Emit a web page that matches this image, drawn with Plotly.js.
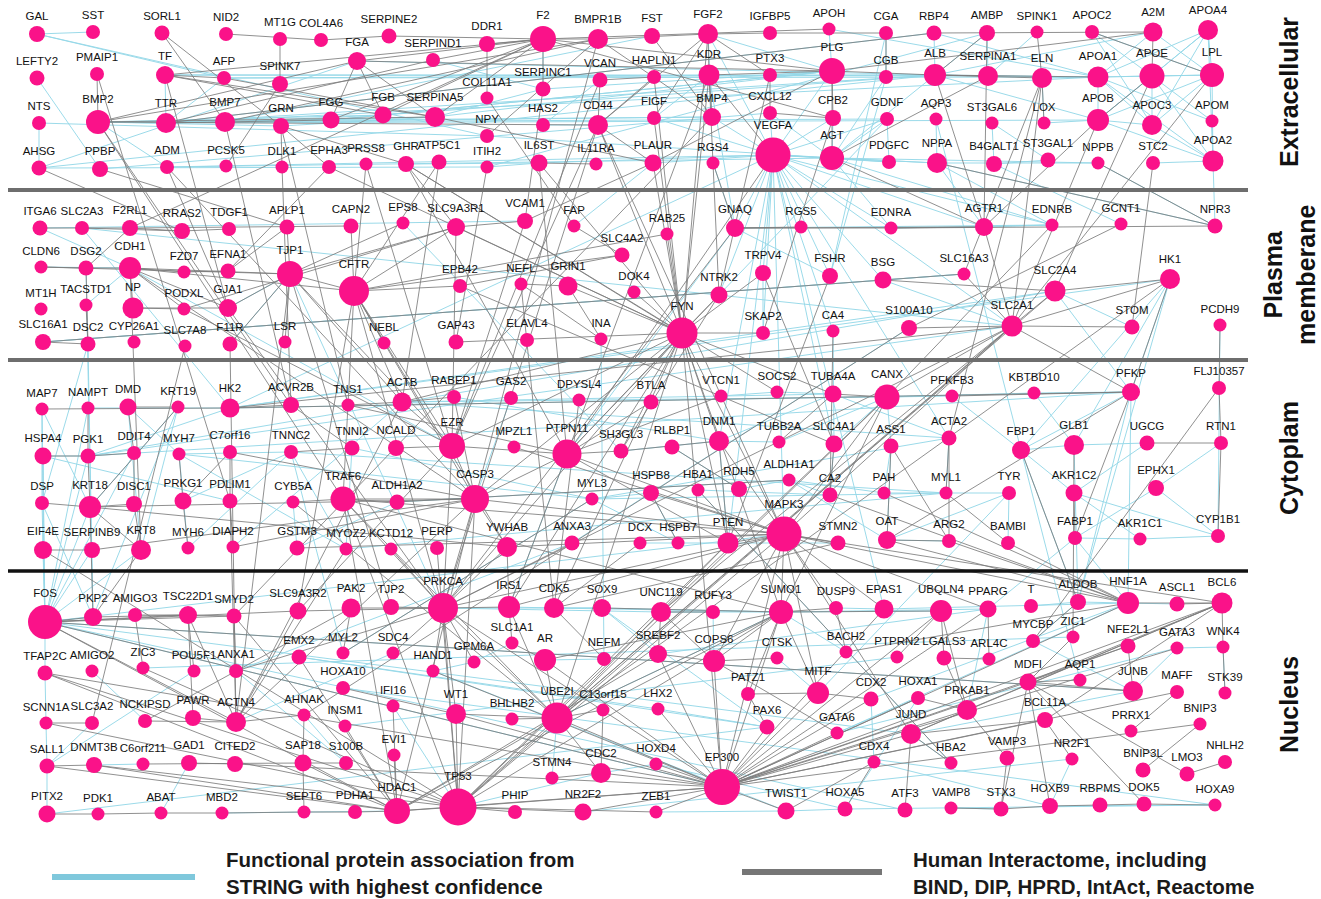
<!DOCTYPE html>
<html>
<head>
<meta charset="utf-8">
<script src="https://cdn.plot.ly/plotly-3.0.1.min.js"></script>
<style>
  html, body { margin: 0; padding: 0; background: #ffffff; }
  #chart { width: 1321px; height: 899px; }
</style>
</head>
<body>
<div id="chart"></div>
<script>
// Network layout: [gene, layout x, layout y, node weight]
const extracellular = [
  ["GAL",37,34,16],["SST",93,32,14],["SORL1",162,33,15],["NID2",226,34,14],["MT1G",280,39,14],["COL4A6",321,40,14],
  ["SERPINE2",389,36,15],["DDR1",487,44,16],["F2",543,39,26],["BMPR1B",598,39,20],["FST",652,36,16],["FGF2",708,34,20],
  ["IGFBP5",770,33,14],["APOH",829,29,13],["CGA",886,33,14],["RBP4",934,33,15],["AMBP",987,33,16],["SPINK1",1037,32,13],
  ["APOC2",1092,32,14],["A2M",1153,32,19],["APOA4",1208,30,20],
  ["LEFTY2",37,78,15],["PMAIP1",97,74,14],["TF",165,75,18],["AFP",224,78,14],["SPINK7",280,84,16],["FGA",357,61,18],
  ["SERPIND1",433,60,14],["COL11A1",487,98,13],["SERPINC1",543,89,15],["VCAN",600,80,15],["HAPLN1",654,77,14],
  ["KDR",709,75,21],["PTX3",770,75,14],["PLG",832,71,26],["CGB",886,77,14],["ALB",935,75,22],["SERPINA1",988,76,20],
  ["ELN",1042,78,20],["APOA1",1098,77,21],["APOE",1152,76,25],["LPL",1212,75,24],
  ["NTS",39,123,14],["BMP2",98,122,24],["TTR",166,123,20],["BMP7",225,122,20],["GRN",281,126,16],["FGG",331,120,17],
  ["FGB",383,115,17],["SERPINA5",435,117,20],["NPY",487,136,14],["HAS2",543,125,14],["CD44",598,125,20],["FIGF",654,118,14],
  ["BMP4",712,117,18],["CXCL12",770,113,14],["CPB2",833,118,16],["GDNF",887,119,14],["AQP3",936,119,13],["ST3GAL6",992,123,13],
  ["LOX",1044,123,13],["APOB",1098,120,22],["APOC3",1152,125,20],["APOM",1212,121,13],
  ["AHSG",39,168,15],["PPBP",100,169,16],["ADM",167,167,14],["PCSK5",226,166,13],["DLK1",282,167,13],["EPHA3",329,167,14],
  ["PRSS8",366,164,13],["GHR",406,164,16],["ATP5C1",439,162,15],["ITIH2",487,167,13],["IL6ST",539,163,17],["IL11RA",596,164,13],
  ["PLAUR",653,163,17],["RGS4",713,163,13],["VEGFA",773,155,35],["AGT",832,158,24],["PDGFC",889,162,14],["NPPA",937,163,20],
  ["B4GALT1",994,164,16],["ST3GAL1",1048,160,15],["NPPB",1098,163,13],["STC2",1153,163,14],["APOA2",1213,161,21]
];

const plasmaMembrane = [
  ["ITGA6",40,228,15],["SLC2A3",82,228,14],["F2RL1",130,228,16],["RRAS2",182,231,16],["TDGF1",229,229,14],["APLP1",287,227,15],
  ["CAPN2",351,226,15],["EPS8",403,223,13],["SLC9A3R1",456,227,18],["VCAM1",525,221,16],["FAP",574,226,13],["RAB25",667,234,13],
  ["GNAQ",735,228,18],["RGS5",801,227,13],["EDNRA",891,228,13],["AGTR1",984,227,18],["EDNRB",1052,225,13],["GCNT1",1121,224,13],
  ["NPR3",1215,226,15],
  ["CLDN6",41,267,13],["DSG2",86,268,15],["CDH1",130,268,22],["FZD7",184,272,13],["EFNA1",228,271,15],["TJP1",290,274,26],
  ["CFTR",354,291,30],["EPB42",460,286,14],["NEFL",521,284,13],["GRIN1",568,286,19],["SLC4A2",622,255,15],["DOK4",634,292,13],
  ["NTRK2",719,295,17],["TRPV4",763,273,16],["FSHR",830,276,16],["BSG",883,280,17],["SLC16A3",964,274,13],["SLC2A4",1055,291,21],
  ["HK1",1170,279,20],
  ["MT1H",41,309,13],["TACSTD1",86,305,13],["NP",133,308,21],["PODXL",184,309,13],["GJA1",228,308,18],
  ["SLC16A1",43,342,16],["DSC2",88,344,15],["CYP26A1",134,342,13],["SLC7A8",185,346,13],["F11R",230,344,15],["LSR",285,342,13],
  ["NEBL",384,343,13],["GAP43",456,342,15],["ELAVL4",527,340,14],["INA",601,339,13],["FYN",682,333,31],["SKAP2",763,333,14],
  ["CA4",833,331,13],["S100A10",909,328,16],["SLC2A1",1012,326,21],["STOM",1132,327,15],["PCDH9",1220,325,13]
];

const cytoplasm = [
  ["MAP7",42,409,13],["NAMPT",88,408,13],["DMD",128,407,17],["KRT19",178,407,13],["HK2",230,408,19],["ACVR2B",291,405,16],
  ["TNS1",348,405,13],["ACTB",402,402,19],["RABEP1",454,397,14],["GAS2",511,398,14],["DPYSL4",579,400,13],["BTLA",651,402,15],
  ["VTCN1",721,396,13],["SOCS2",777,392,13],["TUBA4A",833,394,17],["CANX",887,397,25],["PFKFB3",952,396,13],["KBTBD10",1034,393,13],
  ["PFKP",1131,392,18],["FLJ10357",1219,388,14],
  ["HSPA4",43,456,17],["PGK1",88,456,15],["DDIT4",134,453,14],["MYH7",179,454,13],["C7orf16",230,452,14],["TNNC2",291,452,14],
  ["TNNI2",352,448,15],["NCALD",396,448,16],["EZR",452,446,26],["MPZL1",514,447,13],["PTPN11",567,454,29],["SH3GL3",621,451,15],
  ["RLBP1",672,447,15],["DNM1",719,441,20],["TUBB2A",779,442,13],["SLC4A1",834,444,17],["ASS1",891,446,15],["ACTA2",949,438,15],
  ["FBP1",1021,450,18],["GLB1",1074,445,20],["UGCG",1147,443,15],["RTN1",1221,443,14],
  ["DSP",42,503,14],["KRT18",90,507,22],["DISC1",134,504,16],["PRKG1",183,501,17],["PDLIM1",230,501,15],["CYB5A",293,502,13],
  ["TRAF6",343,499,25],["ALDH1A2",397,502,15],["CASP3",475,499,28],["MYL3",592,499,13],["HSPB8",651,493,16],["HBA1",698,490,13],
  ["RDH5",739,489,16],["ALDH1A1",789,480,13],["CA2",830,495,15],["PAH",884,493,13],["MYL1",946,493,13],["TYR",1009,493,14],
  ["AKR1C2",1074,493,17],["EPHX1",1156,488,16],
  ["EIF4E",43,550,18],["SERPINB9",92,550,16],["KRT8",141,550,20],["MYH6",188,548,13],["DIAPH2",233,547,13],["GSTM3",297,548,15],
  ["MYOZ2",346,549,13],["KCTD12",391,549,13],["PERP",437,548,14],["YWHAB",507,547,20],["ANXA3",572,543,15],["DCX",640,543,13],
  ["HSPB7",678,543,13],["PTEN",728,543,21],["MAPK3",784,534,35],["STMN2",838,543,15],["OAT",887,540,18],["ARG2",949,541,14],
  ["BAMBI",1008,543,14],["FABP1",1075,538,14],["AKR1C1",1140,539,13],["CYP1B1",1218,536,14]
];

const nucleus = [
  ["FOS",45,622,34],["PKP2",93,617,18],["AMIGO3",135,615,14],["TSC22D1",188,615,18],["SMYD2",234,616,15],["SLC9A3R2",298,611,17],
  ["PAK2",351,608,19],["TJP2",391,607,16],["PRKCA",443,608,30],["IRS1",509,607,22],["CDK5",554,608,20],["SOX9",602,608,18],
  ["UNC119",661,612,20],["RUFY3",713,612,14],["SUMO1",781,612,24],["DUSP9",836,608,14],["EPAS1",884,609,19],["UBQLN4",941,611,22],
  ["PPARG",988,609,17],["T",1031,606,14],["ALDOB",1078,602,16],["HNF1A",1128,603,22],["ASCL1",1177,604,15],["BCL6",1222,603,21],
  ["TFAP2C",45,673,15],["AMIGO2",92,671,13],["ZIC3",143,668,13],["POU5F1",194,671,13],["ANXA1",236,671,14],["EMX2",299,657,15],
  ["MYL2",343,653,13],["SDC4",393,653,13],["HAND1",433,671,13],["GPM6A",474,662,13],["SLC1A1",512,643,13],["AR",545,660,22],
  ["NEFM",604,659,14],["SREBF2",658,654,18],["COPS6",714,661,22],["CTSK",777,658,13],["BACH2",846,652,13],["PTPRN2",897,657,13],
  ["LGALS3",944,658,15],["ARL4C",989,659,13],["MYCBP",1033,641,14],["ZIC1",1073,637,13],["NFE2L1",1128,646,15],["GATA3",1177,648,13],
  ["WNK4",1223,647,13],
  ["HOXA10",343,688,14],["SCNN1A",46,723,13],["SLC3A2",92,723,14],["NCKIPSD",145,721,14],["PAWR",193,718,16],["ACTN4",236,722,20],
  ["AHNAK",304,715,13],["INSM1",345,726,13],["IFI16",393,706,13],["WT1",456,714,20],["BHLHB2",512,719,13],["UBE2I",557,718,31],
  ["C13orf15",603,710,13],["LHX2",658,709,13],["PATZ1",748,694,14],["MITF",818,693,22],["PAX6",767,727,15],["GATA6",837,733,13],
  ["CDX2",871,699,15],["HOXA1",918,698,14],["PRKAB1",967,710,20],["MDFI",1028,682,17],["AQP1",1080,680,13],["JUNB",1133,691,20],
  ["MAFF",1177,692,14],["STK39",1225,693,13],["BCL11A",1045,720,16],["PRRX1",1131,731,13],["BNIP3",1200,724,13],["JUND",911,734,20],
  ["SALL1",47,766,15],["DNMT3B",94,765,16],["C6orf211",143,764,13],["GAD1",189,763,16],["CITED2",235,764,16],["SAP18",303,763,17],
  ["S100B",346,763,14],["EVI1",394,755,13],["STMN4",552,778,13],["CDC2",601,773,20],["HOXD4",656,764,13],["EP300",722,787,36],
  ["CDX4",874,762,13],["HBA2",951,763,13],["VAMP3",1007,758,15],["NR2F1",1072,759,13],["BNIP3L",1143,770,15],["LMO3",1187,774,15],
  ["NHLH2",1225,762,14],
  ["PITX2",47,814,17],["PDK1",98,814,13],["ABAT",161,813,13],["MBD2",222,813,13],["SEPT6",304,812,13],["PDHA1",355,812,14],
  ["HDAC1",397,811,26],["TP53",458,807,37],["PHIP",515,812,14],["NR2F2",583,812,17],["ZEB1",656,812,13],["TWIST1",786,811,17],
  ["HOXA5",845,809,15],["ATF3",905,810,15],["VAMP8",951,808,13],["STX3",1001,809,15],["HOXB9",1050,806,16],["RBPMS",1100,805,15],
  ["DOK5",1144,804,15],["HOXA9",1215,805,13]
];

// Functional associations from STRING (highest confidence)
const stringEdges = [
  "GAL-SST","GAL-AFP","GAL-NPY","LEFTY2-PPBP","NTS-AHSG","NTS-NPY","TF-TTR","TTR-BMP2","BMP2-BMP7","BMP2-GRN","BMP7-BMP4",
  "BMP2-BMP4","BMP2-ADM","TTR-ALB","TTR-APOA1","AFP-ALB","AFP-TTR","FGG-PLG","FGB-PLG","SERPINA5-SERPINC1","SERPINA5-PLG",
  "SERPINC1-PLG","SERPIND1-SERPINC1","AHSG-FGA","ITIH2-AMBP","ITIH2-AHSG","HAS2-CD44","FIGF-KDR","FIGF-VEGFA","VEGFA-FGF2",
  "VEGFA-CXCL12","VEGFA-PDGFC","VEGFA-AGT","VEGFA-GDNF","VEGFA-NPPA","VEGFA-EDNRA","VEGFA-GNAQ","VEGFA-NTRK2","VEGFA-TRPV4",
  "VEGFA-FSHR","VEGFA-SLC2A1","VEGFA-MAPK3","VEGFA-PTEN","VEGFA-EPAS1","VEGFA-AGTR1","VEGFA-BSG","VEGFA-ACTA2","VEGFA-EDNRB",
  "VEGFA-HK2","VEGFA-PLG","VEGFA-CPB2","VEGFA-SKAP2","VEGFA-CA4","VEGFA-DNM1","VEGFA-SLC4A1","AGT-NPPA","AGT-NPPB","AGT-EDNRA",
  "AGT-EDNRB","NPPA-NPPB","NPPA-NPR3","NPPA-AGTR1","NPPA-EDNRB","CGA-CGB","CGA-FSHR","CGB-FSHR","RBP4-TTR","RBP4-ALB","ALB-APOA1",
  "ALB-APOB","SERPINA1-APOA1","SERPINA1-ALB","APOA4-APOA1","APOA4-APOE","APOA4-LPL","APOA4-APOC3","APOA4-APOB","APOA4-APOA2",
  "APOA1-APOE","APOA1-LPL","APOA1-APOC3","APOA1-APOA2","APOA1-APOB","APOA1-APOM","APOE-APOC3","APOE-APOA2","APOE-LPL","APOB-APOC3",
  "APOB-LPL","APOB-APOA2","APOC3-LPL","APOC3-APOA2","APOC2-APOC3","APOM-APOA2","LPL-APOA2","APOH-APOA1","ST3GAL6-ST3GAL1",
  "B4GALT1-ST3GAL6","B4GALT1-ST3GAL1","AQP3-AQP1","LOX-ELN","GDNF-PDGFC","APOA2-NPR3","APOE-APOB","CGB-AGT",
  "TF-ALB","TTR-SERPINA5","BMP7-FGB","TF-SERPINA1","AFP-APOA1","FGG-FGB","FGA-ALB","FGB-ALB","BMP4-FGF2","BMP4-VEGFA",
  "IL6ST-VEGFA","PLAUR-VEGFA","AGT-ALB","CPB2-AGT","AMBP-ALB","RBP4-APOA1","PTX3-PLG","FGF2-PLG","A2M-ALB","A2M-APOA1",
  "A2M-LPL","ELN-APOA1","LOX-APOB","GDNF-AGT","PDGFC-AGT","ADM-AGT","BMP2-FGB","TTR-APOB","BMP7-SERPINA5","GRN-SERPINA5",
  "AHSG-ALB","PPBP-CXCL12","GHR-IL6ST","ITIH2-IL6ST","NPY-AGT","ADM-VEGFA","HAS2-VCAN","FST-BMP7","BMP7-GDNF","SERPINC1-F2",
  "APOH-PLG","AMBP-SERPINA1","APOC2-APOE","APOC2-LPL","SPINK1-SERPINA1","CXCL12-AGT","PDGFC-VEGFA","GDNF-NTRK2","STC2-APOA2",
  "NPPB-NPPA","APOM-APOE","ST3GAL1-B4GALT1","AQP3-NPPA",
  "CDH1-TACSTD1","DSC2-DSP","DSG2-PKP2","DSC2-PKP2","SLC2A3-SLC2A1","SLC2A3-HK2","SLC16A1-SLC16A3","GJA1-TJP1","F11R-TJP1",
  "GNAQ-RGS4","GNAQ-EDNRB","EDNRA-EDNRB","FSHR-CGB","HK1-HK2","HK1-PFKP","HK1-FBP1","HK1-ALDOB","HK1-GLB1","ITGA6-CDH1",
  "CLDN6-CDH1","SLC16A1-BSG","SLC2A4-HK2","STOM-SLC2A4","NPR3-NPPB","PCDH9-CYP1B1","SLC2A4-PFKP","AGTR1-EDNRB",
  "FAP-PLAUR","VCAM1-ITGA6","EPS8-SH3GL3","BSG-SLC2A1","SKAP2-TRPV4","CA4-SLC4A1","FSHR-GNAQ","KDR-GNAQ","S100A10-ANXA3",
  "TJP1-PRKCA","CDH1-EZR","GNAQ-PTPN11","SLC2A4-PGK1","SLC2A1-PGK1","HK1-HK2","SLC16A3-BSG","GCNT1-B4GALT1","EDNRB-EDNRA",
  "KRT19-KRT18","KRT19-KRT8","DSP-PKP2","MYH7-MYH6","MYH7-TNNC2","MYH6-TNNC2","TNNI2-MYL3","MYL3-MYH7","MYL3-MYL2","MYL1-ACTA2",
  "MYL1-MYL3","MYOZ2-TNNC2","MYOZ2-TNNI2","ACTB-ACTA2","ACTB-TUBA4A","DNM1-SH3GL3","HSPB8-HSPB7","ALDH1A1-ALDH1A2","RLBP1-RDH5",
  "CA2-SLC4A1","PGK1-HK2","HK2-PFKP","PFKP-FBP1","FBP1-ALDOB","ALDOB-PFKP","OAT-ASS1","OAT-ARG2","PAH-TYR","TYR-MITF",
  "AKR1C2-AKR1C1","EPHX1-CYP1B1","CYP1B1-AKR1C1","FABP1-PPARG","FABP1-HNF1A","HSPA4-PGK1","MAP7-DSP","DMD-MYH7","GSTM3-ALDH1A2",
  "CANX-ASS1","CANX-PFKFB3","CANX-KBTBD10","GLB1-UGCG","GLB1-FBP1","PFKFB3-FBP1","ACTA2-MYL3","TYR-BAMBI","ALDH1A1-RDH5",
  "TUBB2A-DNM1","HBA1-CA2","PGK1-PFKP","MYL1-MYOZ2","ASS1-PAH","KBTBD10-GLB1","HSPA4-PDLIM1",
  "HSPB7-MYL3","HSPB8-MYL3","MYOZ2-MYH7","MYL1-TNNC2","CANX-SLC4A1","CANX-TUBB2A","ALDH1A1-PAH","ALDH1A1-OAT","AKR1C2-FBP1",
  "AKR1C1-FABP1","CYP1B1-AKR1C2","EPHX1-FABP1","ACTA2-TUBA4A","SOCS2-VTCN1","HSPA4-EIF4E","DMD-KRT8","NAMPT-HK2","MAP7-KRT18",
  "PRKG1-TNNC2","DIAPH2-ACTB","CYB5A-GSTM3","RABEP1-DNM1","GAS2-CASP3","ANXA3-ANXA1","DCX-STMN2","PTEN-DNM1","CA2-ALDH1A1",
  "PFKP-HNF1A","GLB1-ALDOB","UGCG-AKR1C2","TYR-OAT","RTN1-EPHX1","KBTBD10-PFKP","SOCS2-TUBA4A","TUBA4A-DNM1","ACTB-CANX",
  "FOS-JUNB","FOS-JUND","FOS-ATF3","FOS-EIF4E","FOS-HSPA4","FOS-SERPINB9","FOS-KRT8","FOS-DSP","FOS-MAP7","FOS-PKP2","FOS-KRT18",
  "TFAP2C-SCNN1A","SALL1-PITX2","ABAT-GAD1","HOXA1-HOXA5","HOXA5-HOXA9","HOXA9-HOXB9","HOXD4-HOXA5","CDX2-CDX4","CDX2-HNF1A",
  "GATA6-GATA3","JUNB-JUND","JUNB-GATA3","JUND-HBA2","MYCBP-JUNB","NR2F2-NR2F1","ZEB1-TWIST1","TWIST1-HOXA5","HAND1-TWIST1",
  "PAX6-SOX9","PITX2-PAX6","SOX9-SREBF2","UNC119-SUMO1","UNC119-RUFY3","DUSP9-EPAS1","T-ALDOB","ALDOB-HNF1A","ASCL1-HNF1A",
  "SCNN1A-SALL1","FOS-TFAP2C","FOS-MAPK3","FOS-EP300","PRKCA-SOX9","SUMO1-PPARG","PTPRN2-INSM1","HOXA10-HOXA9","EMX2-LHX2",
  "GATA6-HNF1A","NR2F1-HOXB9","VAMP8-STX3","HBA2-HBA1","CDX4-HOXB9","AHNAK-S100B","MYL2-TNNC2","SDC4-ACTN4","ANXA1-S100B",
  "POU5F1-SALL1","ZIC3-ZIC1","IFI16-TP53","UBE2I-SUMO1","SLC1A1-GPM6A","C6orf211-DNMT3B","NEFM-INA","LHX2-PAX6","SOX9-SUMO1",
  "GATA3-WNK4","STK39-WNK4","ALDOB-MYCBP",
  "FOS-NAMPT","FOS-PGK1","FOS-DDIT4","PKP2-KRT19","SUMO1-CDK5","IRS1-PTPN11","UNC119-PRKCA","SOX9-CDK5","CDK5-IRS1",
  "SREBF2-PPARG","EPAS1-HNF1A","UBQLN4-SUMO1","RUFY3-COPS6","SUMO1-BACH2","MITF-TYR","CTSK-MITF","GATA6-HOXA1","PRKAB1-PPARG",
  "HDAC1-MBD2","TP53-CDC2","UBE2I-STMN4","CDC2-HOXD4","GPM6A-HAND1","AR-NEFM","EMX2-PAX6","NCKIPSD-AMIGO2","SLC3A2-SALL1"
];

// Human interactome (BIND, DIP, HPRD, IntAct, Reactome)
const interactomeEdges = [
  "NID2-COL4A6","COL4A6-SERPINE2","SERPINE2-F2","MT1G-SPINK7","SORL1-GRN","TF-AFP","TF-F2","TF-FGB","TF-SERPINA5","PMAIP1-BMP2",
  "PMAIP1-PDLIM1","BMP2-FGA","BMP2-SERPINA5","BMP2-BMPR1B","BMP2-ACVR2B","BMP2-TRAF6","BMP2-CD44","TTR-FGG","TTR-SERPIND1",
  "TTR-RBP4","BMP7-ACVR2B","BMP7-BMPR1B","SPINK7-PCSK5","GRN-DLK1","GRN-EPHA3","GRN-TNS1","GRN-GHR","FGA-FGG","FGA-FGB","FGA-F2",
  "FGA-SERPINA5","FGA-PLG","FGB-F2","FGG-F2","SERPIND1-F2","SERPINA5-F2","SERPINA5-PLAUR","DDR1-F2","DDR1-COL11A1","F2-BMPR1B",
  "F2-SERPINC1","F2-PLG","F2-CPB2","F2-F2RL1","F2-APOH","BMPR1B-FGF2","BMPR1B-BMP4","BMPR1B-NPY","FST-BMP4","FGF2-KDR","FGF2-PTX3",
  "FGF2-CD44","FGF2-FIGF","FGF2-IGFBP5","IGFBP5-CGA","KDR-VEGFA","KDR-BMP4","KDR-PLG","KDR-FYN","KDR-PTPN11","KDR-NTRK2",
  "HAPLN1-CD44","HAPLN1-VCAN","VCAN-CD44","CD44-EZR","CD44-PLAUR","CD44-PRKCA","PLAUR-PLG","PLAUR-VCAM1","PLG-CPB2","PLG-AGT",
  "PLG-ALB","PLG-A2M","CXCL12-PTX3","CXCL12-CPB2","IL6ST-IL11RA","IL6ST-PTPN11","IL6ST-FYN","ALB-AMBP","ALB-SERPINA1","ALB-ELN",
  "ALB-APOA1","ALB-AGTR1","CGA-CGB","RBP4-A2M","SPINK1-ELN","ELN-LOX","ELN-SLC2A1","ELN-ACTA2","ELN-SLC16A3","APOC2-LPL",
  "A2M-APOE","APOE-APOB","LPL-SLC2A1","APOB-SLC2A1","NPPB-NPR3","NPPA-NPR3","AGT-AGTR1","AGT-SERPINA1","STC2-STOM",
  "AHSG-RRAS2","PPBP-APLP1","ADM-GJA1","EPHA3-EFNA1","EPHA3-FYN","GHR-PTPN11","GHR-SOCS2","GHR-SLC9A3R1","RGS4-GNAQ",
  "VEGFA-PTPN11","ATP5C1-CFTR","ITIH2-GAP43","DLK1-ACVR2B","PRSS8-CFTR","SORL1-BMP7","TF-GJA1","AFP-SERPINA5",
  "ATP5C1-ACTB","PRSS8-EZR","GHR-FYN","PLAUR-FYN","FGF2-FYN","BMPR1B-CASP3","CD44-MAPK3","ADM-CASP3","VCAN-EZR","HAPLN1-FYN",
  "BMP4-SMYD2","COL11A1-FAP","SERPINC1-VCAM1","FIGF-FYN","PTX3-NTRK2","CPB2-SKAP2","AMBP-AGTR1","APOE-SLC2A4","APOB-AGTR1",
  "ITGA6-F2RL1","SLC2A3-RRAS2","F2RL1-RRAS2","F2RL1-DSG2","F2RL1-CAPN2","RRAS2-TDGF1","APLP1-TJP1","APLP1-EFNA1","CAPN2-CFTR",
  "EPS8-TJP1","CLDN6-DSG2","DSG2-CDH1","DSG2-DSC2","CDH1-FZD7","CDH1-TJP1","CDH1-NP","CDH1-GJA1","CDH1-CFTR","CDH1-KRT8",
  "CDH1-PODXL","CDH1-CASP3","FZD7-EFNA1","TJP1-CFTR","TJP1-GJA1","TJP1-F11R","TJP1-LSR","TJP1-CLDN6","TJP1-ACTN4","TJP1-TJP2",
  "TJP1-EZR","TJP1-SLC9A3R1","TJP1-ACTB","CFTR-SLC9A3R1","CFTR-NEBL","CFTR-SLC4A2","CFTR-EZR","CFTR-SLC9A3R2","CFTR-PRKCA",
  "CFTR-EPB42","CFTR-ACTB","CFTR-TRAF6","CFTR-YWHAB","CFTR-CASP3","CFTR-RAB25","TACSTD1-DSC2","NP-PODXL","NP-GJA1","SLC16A1-DSC2",
  "SLC16A1-BSG","GJA1-PRKCA","PODXL-EZR","SLC7A8-SLC3A2","F11R-ACTN4","SLC9A3R1-EZR","SLC9A3R1-VCAM1","SLC9A3R1-PODXL",
  "VCAM1-EZR","FAP-SLC4A2","SLC4A2-EPB42","EPB42-SLC4A1","NEFL-INA","NEFL-GRIN1","NEFL-CDK5","GRIN1-FYN","GRIN1-INA","DOK4-FYN",
  "RAB25-FYN","GNAQ-RGS5","GNAQ-AGTR1","GNAQ-EDNRA","GNAQ-PRKCA","TRPV4-FYN","TRPV4-SLC4A1","NTRK2-FYN","NTRK2-PTPN11",
  "NTRK2-SH3GL3","FSHR-PTEN","BSG-SLC16A3","BSG-SLC2A4","SKAP2-FYN","CA4-CA2","S100A10-AHNAK","SLC2A4-HK1","SLC2A4-SLC2A1",
  "SLC2A1-HK1","SLC2A1-STOM","SLC2A1-HK2","SLC2A1-PFKP","SLC2A1-MAPK3","SLC2A1-TP53","SLC2A1-PRKCA","SLC2A1-UBE2I",
  "SLC2A1-UNC119","SLC2A4-UBE2I","HK1-UBE2I","AGTR1-EDNRA","NPR3-EDNRA","HK1-PFKP","PCDH9-FLJ10357","FYN-PTPN11","FYN-PRKCA",
  "FYN-MAPK3","FYN-SH3GL3","FYN-DNM1","FYN-PTEN","FYN-SUMO1","FYN-UBE2I","FYN-IRS1","FYN-CDK5","FYN-GAP43","FYN-CD44","FYN-EP300",
  "FYN-TUBA4A","FYN-SLC9A3R1","FYN-ACTB","FYN-CASP3","FYN-EZR","S100A10-SLC2A1","SLC16A3-SLC2A1","AGTR1-SLC2A1","EDNRB-CANX",
  "GCNT1-S100A10","SLC2A1-CANX",
  "NAMPT-PGK1","DMD-DDIT4","DMD-KRT19","MAP7-HK2","HK2-ACVR2B","HK2-PFKP","HSPA4-PGK1","PGK1-DDIT4","PGK1-KRT18","DDIT4-DISC1",
  "MYH7-PRKG1","C7orf16-PRKG1","C7orf16-PDLIM1","C7orf16-CASP3","TNNC2-TNNI2","NCALD-EZR","ACTB-EZR","ACTB-TNS1","ACTB-ACTN4",
  "ACTB-RABEP1","DSP-KRT18","KRT18-KRT8","KRT18-DISC1","KRT18-CASP3","KRT18-PKP2","KRT18-YWHAB","KRT18-KRT19","DISC1-KRT8",
  "PRKG1-MYH6","PDLIM1-DIAPH2","PDLIM1-ACTN4","TRAF6-ALDH1A2","TRAF6-CASP3","TRAF6-MAPK3","TRAF6-TP53","TRAF6-SUMO1",
  "TRAF6-UBE2I","TRAF6-CYB5A","TRAF6-HDAC1","TRAF6-PRKCA","ALDH1A2-ALDH1A1","EZR-CASP3","EZR-PRKCA","EZR-SLC9A3R2","EZR-PTPN11",
  "CASP3-YWHAB","CASP3-MAPK3","CASP3-TP53","CASP3-PRKCA","CASP3-ACTN4","CASP3-HDAC1","CASP3-PTPN11","PTPN11-IRS1","PTPN11-MAPK3",
  "PTPN11-SH3GL3","SH3GL3-DNM1","RLBP1-RDH5","DNM1-PTEN","HSPB8-HSPB7","HSPB8-MAPK3","HBA1-HBA2","TUBA4A-TUBB2A","TUBA4A-CANX",
  "SLC4A1-CA2","CANX-MAPK3","CANX-SUMO1","CANX-UBE2I","CANX-TP53","PFKFB3-PFKP","FLJ10357-RTN1","RTN1-UGCG","RTN1-CYP1B1",
  "FBP1-ALDOB","OAT-ARG2","ASS1-OAT","ASS1-ARG2","ACTA2-MYL1","ACTA2-ARG2","YWHAB-IRS1","YWHAB-MAPK3","YWHAB-PRKCA","DCX-CDK5",
  "PTEN-MAPK3","PTEN-TP53","PTEN-UBE2I","PTEN-PTPN11","MAPK3-STMN2","MAPK3-SUMO1","MAPK3-EP300","MAPK3-PRKCA","MAPK3-IRS1",
  "MAPK3-DUSP9","MAPK3-EPAS1","MAPK3-PPARG","MAPK3-HNF1A","MAPK3-COPS6","MAPK3-MITF","MAPK3-JUND","MAPK3-BCL6","MAPK3-TP53",
  "MAPK3-DNM1","MAPK3-MPZL1","KRT8-PKP2","AKR1C2-FABP1","PFKP-FABP1","PAH-HNF1A","FLJ10357-MYCBP","GLB1-ZIC1",
  "MYL1-BAMBI","PFKP-OAT","DPYSL4-CDK5","BTLA-PTPN11","VTCN1-PTPN11","RABEP1-CASP3","ANXA3-PRKCA","MYL3-MYL2",
  "EIF4E-SERPINB9","EIF4E-TP53","SERPINB9-CASP3","KCTD12-PRKCA","PERP-TP53","STMN2-CDK5","OAT-HNF1A","ARG2-HNF1A","BAMBI-HNF1A",
  "CA2-HNF1A","ACVR2B-TNNI2","TNS1-PTPN11","DIAPH2-CASP3","GSTM3-MAPK3","MYOZ2-ACTN4","CYB5A-UBE2I",
  "FOS-PKP2","FOS-JUNB","FOS-EP300","FOS-HDAC1","FOS-SLC9A3R2","FOS-SMYD2","FOS-TSC22D1","FOS-ACTN4","TSC22D1-SMYD2",
  "TSC22D1-ACTN4","TSC22D1-PAWR","SMYD2-ANXA1","SMYD2-HDAC1","SLC9A3R2-PRKCA","SLC9A3R2-ACTN4","PAK2-PRKCA","PAK2-MYL2",
  "PAK2-NCKIPSD","TJP2-PRKCA","PRKCA-IRS1","PRKCA-TP53","PRKCA-SDC4","PRKCA-EP300","PRKCA-WT1","PRKCA-ANXA1","PRKCA-HAND1",
  "PRKCA-UBE2I","IRS1-UBE2I","CDK5-NEFM","UNC119-COPS6","UNC119-SREBF2","SUMO1-UBE2I","SUMO1-EP300","SUMO1-COPS6","SUMO1-MITF",
  "SUMO1-HDAC1","SUMO1-PATZ1","SUMO1-AR","SUMO1-TP53","DUSP9-BACH2","EPAS1-EP300","UBQLN4-PRKAB1","UBQLN4-LGALS3","UBQLN4-EP300",
  "PPARG-EP300","PPARG-ARL4C","ALDOB-MYCBP","HNF1A-EP300","BCL6-ASCL1","BCL6-WNK4","BCL6-MDFI","BCL6-EP300","BCL6-JUND",
  "BCL6-BCL11A","BCL6-PRKAB1","BCL6-HNF1A","WNK4-STK39","NFE2L1-JUNB","NFE2L1-MDFI","NFE2L1-EP300","MAFF-PRRX1","MDFI-AQP1",
  "MDFI-JUNB","MDFI-HOXB9","MDFI-DOK5","MDFI-EP300","MDFI-LMO3","BCL11A-NR2F1","BCL11A-EP300","BNIP3-BNIP3L","LMO3-NHLH2",
  "JUND-ATF3","JUND-EP300","JUND-PRKAB1","PRKAB1-LGALS3","PRKAB1-EP300","PRKAB1-VAMP3","VAMP3-STX3","STX3-VAMP8","STX3-HOXB9",
  "HOXB9-RBPMS","RBPMS-DOK5","DOK5-HOXA9","CDX4-HOXA5","CDX2-EP300","HOXA1-EP300","MITF-EP300","MITF-PATZ1","PAX6-EP300",
  "GATA6-EP300","TWIST1-EP300","COPS6-EP300","ZEB1-EP300","NR2F2-EP300","TP53-EP300","TP53-HDAC1","TP53-WT1","TP53-UBE2I",
  "TP53-PHIP","HDAC1-SAP18","HDAC1-PDHA1","HDAC1-EVI1","HDAC1-UBE2I","HDAC1-EP300","UBE2I-AR",
  "UBE2I-WT1","UBE2I-BHLHB2","UBE2I-C13orf15","UBE2I-CDC2","UBE2I-EP300","AR-EP300","CDC2-STMN4","PITX2-PDK1","PDK1-ABAT",
  "ABAT-MBD2","MBD2-SEPT6","SEPT6-PDHA1","SAP18-SEPT6","SAP18-S100B","SAP18-AHNAK","SALL1-DNMT3B","DNMT3B-HDAC1","GAD1-CITED2",
  "CITED2-EP300","TFAP2C-TP53","TFAP2C-EP300","PAWR-ACTN4","ACTN4-AHNAK","INSM1-HDAC1","POU5F1-TSC22D1","EP300-WT1","EP300-CDC2",
  "EP300-SREBF2","EP300-HAND1","EP300-LHX2","EP300-HOXD4","EP300-GATA3","EP300-MAFF","EP300-BNIP3","EP300-NFE2L1","MITF-CDX2",
  "SUMO1-DUSP9","SUMO1-UBQLN4","SUMO1-SOX9","COPS6-CTSK","HDAC1-SREBF2","TP53-NR2F2","TP53-ZEB1","WT1-HOXA10","AR-SLC1A1",
  "IRS1-SLC1A1","TSC22D1-AMIGO3","AMIGO3-ZIC3","NCKIPSD-ACTN4","EMX2-HDAC1","IFI16-HDAC1","SDC4-PRKCA","GPM6A-PRKCA",
  "C13orf15-CDC2","SREBF2-COPS6","RUFY3-UNC119","BACH2-HNF1A","LGALS3-ARL4C","ZIC1-MDFI","HOXA1-PRKAB1","PTPRN2-UBQLN4",
  "JUND-BCL11A","MDFI-STX3","HBA2-JUND","PATZ1-PAX6","GATA6-COPS6","TWIST1-CDX4","SCNN1A-SLC3A2","SCNN1A-TP53","ZIC3-TP53",
  "C6orf211-SAP18","DNMT3B-TP53","SALL1-HDAC1","TFAP2C-HDAC1","PKP2-TSC22D1"
];

// Compartment bands and legend entries
const compartmentLabels = ["Extracellular", "Plasma<br>memberane", "Cytoplam", "Nucleus"];
const compartmentCentres = [92, 275, 458, 705];
const bandDividers = [190, 360, 571];
const legendText = [
  "Functional protein association from<br>STRING with highest confidence",
  "Human Interactome, including<br>BIND, DIP, HPRD, IntAct, Reactome"
];

const allNodes = [...extracellular, ...plasmaMembrane, ...cytoplasm, ...nucleus];
const lookup = {};
allNodes.forEach(n => { lookup[n[0]] = n; });

function edgeCoords(list) {
  const seen = new Set();
  const xs = [], ys = [];
  list.forEach(e => {
    const [a, b] = e.split("-");
    const key = [a, b].sort().join("|");
    if (seen.has(key)) return;
    seen.add(key);
    const p = lookup[a], q = lookup[b];
    if (!p || !q) return;
    xs.push(p[1], q[1], null);
    ys.push(p[2], q[2], null);
  });
  return { xs, ys };
}

const blue = edgeCoords(stringEdges);
const grey = edgeCoords(interactomeEdges);

const labelFont = "Liberation Sans, Arial, sans-serif";

const traces = [
  {
    type: "scatter", mode: "lines", x: blue.xs, y: blue.ys, hoverinfo: "skip",
    line: { color: "rgba(150,216,232,0.95)", width: 1 }
  },
  {
    type: "scatter", mode: "lines", x: grey.xs, y: grey.ys, hoverinfo: "skip",
    line: { color: "rgba(125,125,125,0.85)", width: 1 }
  },
  {
    type: "scatter", mode: "markers+text",
    x: allNodes.map(n => n[1]), y: allNodes.map(n => n[2]),
    text: allNodes.map(n => n[0]),
    textposition: "top center",
    cliponaxis: false,
    textfont: { family: labelFont, size: 11.5, color: "#111111" },
    marker: { size: allNodes.map(n => n[3]), color: "#fa1289", opacity: 1, line: { width: 0 } },
    hoverinfo: "text"
  }
];

const shapes = bandDividers.map((y, i) => ({
  type: "line", xref: "x", yref: "y", x0: 8, x1: 1248, y0: y, y1: y,
  line: { color: i === 2 ? "#111111" : "#6e6e6e", width: i === 2 ? 3.5 : 4 }
}));
shapes.push(
  { type: "line", xref: "x", yref: "y", x0: 52, x1: 195, y0: 877, y1: 877, line: { color: "#7fc8dc", width: 6 } },
  { type: "line", xref: "x", yref: "y", x0: 742, x1: 882, y0: 872, y1: 872, line: { color: "#767676", width: 6 } }
);

const annotations = compartmentLabels.map((t, i) => ({
  x: 1289, y: compartmentCentres[i], xref: "x", yref: "y",
  text: "<b>" + t + "</b>", showarrow: false, textangle: -90,
  font: { family: labelFont, size: 25, color: "#111111" }
}));
annotations.push(
  { x: 224, y: 873, xref: "x", yref: "y", xanchor: "left", align: "left", showarrow: false,
    text: "<b>" + legendText[0] + "</b>",
    font: { family: labelFont, size: 20.5, color: "#1a1a1a" } },
  { x: 911, y: 873, xref: "x", yref: "y", xanchor: "left", align: "left", showarrow: false,
    text: "<b>" + legendText[1] + "</b>",
    font: { family: labelFont, size: 20.5, color: "#1a1a1a" } }
);

const layout = {
  width: 1321, height: 899,
  margin: { l: 0, r: 0, t: 0, b: 0 },
  paper_bgcolor: "#ffffff", plot_bgcolor: "#ffffff",
  showlegend: false,
  xaxis: { range: [0, 1321], visible: false, fixedrange: true },
  yaxis: { range: [899, 0], visible: false, fixedrange: true },
  shapes: shapes,
  annotations: annotations
};

Plotly.newPlot("chart", traces, layout, { displayModeBar: false, staticPlot: true });
</script>
</body>
</html>
